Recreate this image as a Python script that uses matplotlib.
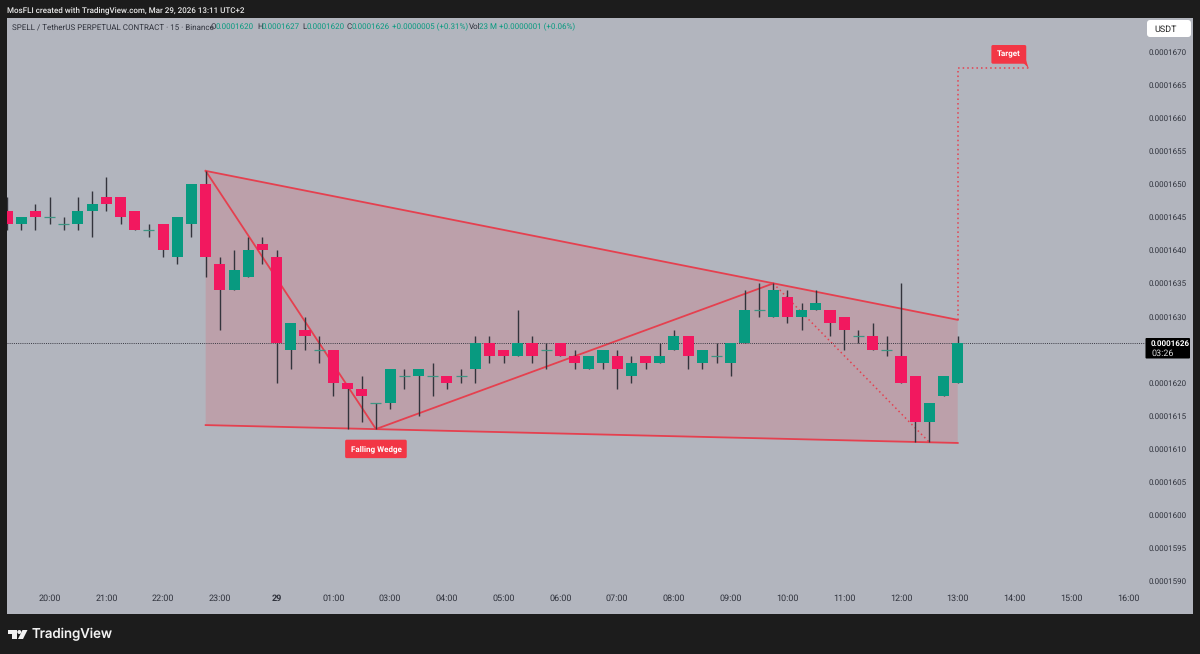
import matplotlib
matplotlib.use("Agg")
import matplotlib.pyplot as plt
from matplotlib.patches import Polygon, Rectangle, Circle, FancyBboxPatch
from matplotlib.transforms import IdentityTransform

# prices in units of 0.0000001
opens = [1646,1644,1646,1645,1644,1644,1646,1648,1648,1646,1643,1644,1639,1644,1650,1638,1634,1636,1641,1639,
         1625,1628,1625,1625,1620,1619,1617,1617,1621,1621,1621,1621,1621,1622,1626,1625,1624,1626,1625,1626,
         1624,1622,1623,1624,1621,1624,1623,1625,1627,1623,1624,1623,1626,1631,1630,1633,1630,1631,1631,1630,
         1627,1627,1625,1624,1621,1614,1618,1620]
closes = [1644,1645,1645,1645,1644,1646,1647,1647,1645,1643,1643,1640,1645,1650,1639,1634,1637,1640,1640,1626,
          1629,1627,1625,1620,1619,1618,1617,1622,1621,1622,1621,1620,1621,1626,1624,1624,1626,1624,1625,1624,
          1623,1624,1625,1622,1623,1623,1624,1627,1624,1625,1624,1626,1631,1631,1634,1630,1631,1632,1629,1628,
          1627,1625,1625,1620,1614,1617,1621,1626]
highs = [1648,1645,1647,1648,1645,1648,1649,1651,1648,1646,1644,1644,1645,1650,1652,1639,1640,1642,1642,1640,
         1629,1630,1627,1625,1620,1621,1617,1622,1622,1622,1623,1621,1622,1627,1627,1625,1631,1627,1626,1626,
         1625,1624,1625,1625,1624,1624,1626,1628,1627,1625,1626,1626,1634,1635,1635,1634,1632,1634,1631,1630,
         1628,1629,1627,1635,1621,1617,1621,1627]
lows = [1643,1643,1643,1644,1643,1643,1642,1646,1644,1643,1642,1639,1638,1642,1636,1628,1634,1636,1638,1620,
        1622,1625,1623,1618,1613,1614,1613,1616,1619,1615,1618,1619,1620,1620,1623,1623,1624,1623,1622,1624,
        1622,1622,1622,1619,1620,1622,1623,1625,1622,1622,1623,1621,1626,1630,1630,1629,1628,1631,1627,1625,
        1626,1625,1624,1620,1611,1611,1618,1620]
last_price = 1626

wedge_top_x, wedge_top_y = [14, 67], [1652, 1629.5]
wedge_bot_x, wedge_bot_y = [14, 67], [1613.6, 1610.9]
zig_x, zig_y = [14, 26, 54], [1652, 1613, 1635]
zig_dot_x, zig_dot_y = [54, 65], [1635, 1611]
target_x, target_y = [67, 67, 72], [1629.5, 1667.5, 1667.5]

time_ticks = [3,7,11,15,19,23,27,31,35,39,43,47,51,55,59,63,67,71,75,79]
time_labels = ["20:00","21:00","22:00","23:00","29","01:00","03:00","04:00","05:00","06:00",
               "07:00","08:00","09:00","10:00","11:00","12:00","13:00","14:00","15:00","16:00"]
price_ticks = [1590,1595,1600,1605,1610,1615,1620,1630,1635,1640,1645,1650,1655,1660,1665,1670]

DARK, BG = "#1c1c1c", "#b2b5be"
UP, DOWN = "#089a80", "#f2185f"
LINE = "#e5404f"
INK = "#2f323c"
plt.rcParams["font.family"] = "Roboto"
plt.rcParams["text.hinting"] = "none"
plt.rcParams["text.hinting_factor"] = 1

W, H = 1200, 654
fig = plt.figure(figsize=(12, 6.54), dpi=100, facecolor=DARK)
L, R, T, B = 7, 1193, 18, 614
ax = fig.add_axes([L/W, 1-B/H, (R-L)/W, (B-T)/H], facecolor=BG)
ax.set_xlim(0, (R-L)/14.19)
ax.set_ylim(1626-(B-343)/6.62, 1626+(343-T)/6.62)
for s in ax.spines.values():
    s.set_visible(False)

ax.set_xticks(time_ticks)
ax.set_xticklabels(time_labels)
ax.set_yticks(price_ticks)
ax.set_yticklabels([f"{p/1e7:.7f}" for p in price_ticks])
ax.yaxis.tick_right()
ax.tick_params(axis="y", length=0, pad=-4.5, labelsize=6.0, labelcolor=INK)
for t in ax.get_yticklabels():
    t.set_ha("right")
ax.tick_params(axis="x", length=0, pad=-14, labelsize=6.2, labelcolor=INK)
for t, lab in zip(ax.get_xticklabels(), time_labels):
    if lab == "29":
        t.set_fontweight("bold")

# wedge
ax.fill(wedge_top_x + wedge_bot_x[::-1], wedge_top_y + wedge_bot_y[::-1],
        color="#f23645", alpha=0.16, lw=0, zorder=1)
ax.plot(wedge_top_x, wedge_top_y, color=LINE, lw=1.3, zorder=2)
ax.plot(wedge_bot_x, wedge_bot_y, color=LINE, lw=1.3, zorder=2)
ax.plot(zig_x, zig_y, color=LINE, lw=1.3, zorder=2)
ax.plot(zig_dot_x, zig_dot_y, color=LINE, lw=1.1, ls=(0, (1, 2)), zorder=2)
ax.plot(target_x, target_y, color=LINE, lw=1.1, ls=(0, (1, 2)), zorder=2)

# last price line
ax.axhline(last_price, xmax=(1145-L)/(R-L), color="#3a3a44", lw=0.7, ls=(0, (1, 1.2)), zorder=3)

# candles
for i, (o, c, h, l) in enumerate(zip(opens, closes, highs, lows)):
    col = UP if c > o else DOWN
    ax.vlines(i, l, h, color="#33343c", lw=1.0, zorder=4)
    if o == c:
        ax.hlines(o, i-0.39, i+0.39, color="#3d9583", lw=0.9, zorder=4)
    else:
        ax.add_patch(Rectangle((i-0.39, min(o, c)), 0.78, abs(o-c), fc=col, ec="none", zorder=5))

# pattern labels
RED = "#f23645"
ax.text(26, 1610, "Falling Wedge", ha="center", va="center", color="white", fontsize=5.7, fontweight="bold",
        zorder=7, bbox=dict(boxstyle="round,pad=0.68,rounding_size=0.2", fc=RED, ec="none"))
ax.text(70.6, 1669.6, "Target", ha="center", va="center", color="white", fontsize=5.7, fontweight="bold",
        zorder=7, bbox=dict(boxstyle="round,pad=0.7,rounding_size=0.2", fc=RED, ec="none"))
ax.fill([71.4, 72, 71.8], [1668.8, 1667.5, 1668.8], color=RED, lw=0, zorder=7)

# figure-level furniture, positioned in pixels
def ptext(x, y, s, **kw):
    kw.setdefault("va", "center")
    kw.setdefault("zorder", 9)
    return fig.text(x/W, 1-y/H, s, **kw)

def pbox(x0, y0, x1, y1, fc, r=2):
    fig.add_artist(FancyBboxPatch((x0, H-y1), x1-x0, y1-y0,
                                  boxstyle=f"round,pad=0,rounding_size={r}",
                                  fc=fc, ec="none", transform=IdentityTransform(), zorder=8))

ptext(7, 10, "MosFLI created with TradingView.com, Mar 29, 2026 13:11 UTC+2", color="#e8e8e8",
      fontsize=5.8, fontweight="medium")

legend = [(11.5, "SPELL / TetherUS PERPETUAL CONTRACT · 15 · Binance", INK, 5.75),
          (211, "O", INK, 6), (216, "0.0001620", UP, 6), (257, "H", INK, 6), (262, "0.0001627", UP, 6),
          (302, "L", INK, 6), (307, "0.0001620", UP, 6), (347, "C", INK, 6), (352, "0.0001626", UP, 6),
          (392, "+0.0000005 (+0.31%)", UP, 5.8), (469, "Vol", INK, 6), (479, "23 M", UP, 5.6),
          (499, "+0.0000001 (+0.06%)", UP, 5.8)]
for x, s, c, fs in legend:
    ptext(x, 27, s, color=c, fontsize=fs)

pbox(1147, 20, 1191, 37, "white", r=3)
ptext(1154, 29, "USDT", color="#222222", fontsize=6.6)

pbox(1145.5, 338, 1190, 358.5, "black", r=1)
ptext(1151, 343.5, "0.0001626", color="white", fontsize=6.0, fontweight="bold")
ptext(1151, 353, "03:26", color="#d8d8d8", fontsize=6.2)

# TradingView mark
def px_poly(pts, fc="#f2f2f2"):
    fig.add_artist(Polygon([(x, H-y) for x, y in pts], closed=True, fc=fc, ec="none",
                           transform=IdentityTransform(), zorder=8))
px_poly([(8, 630), (16.5, 630), (16.5, 639), (12, 639), (12, 634), (8, 634)])
px_poly([(22.5, 630), (27.5, 630), (23, 639), (18, 639)])
fig.add_artist(Circle((19.3, H-632), 2, fc="#f2f2f2", ec="none", transform=IdentityTransform(), zorder=8))
ptext(32, 634, "TradingView", color="#f2f2f2", fontsize=9.6, family="Inter", fontweight="medium")

fig.savefig("out.png", dpi=100, facecolor=DARK)
